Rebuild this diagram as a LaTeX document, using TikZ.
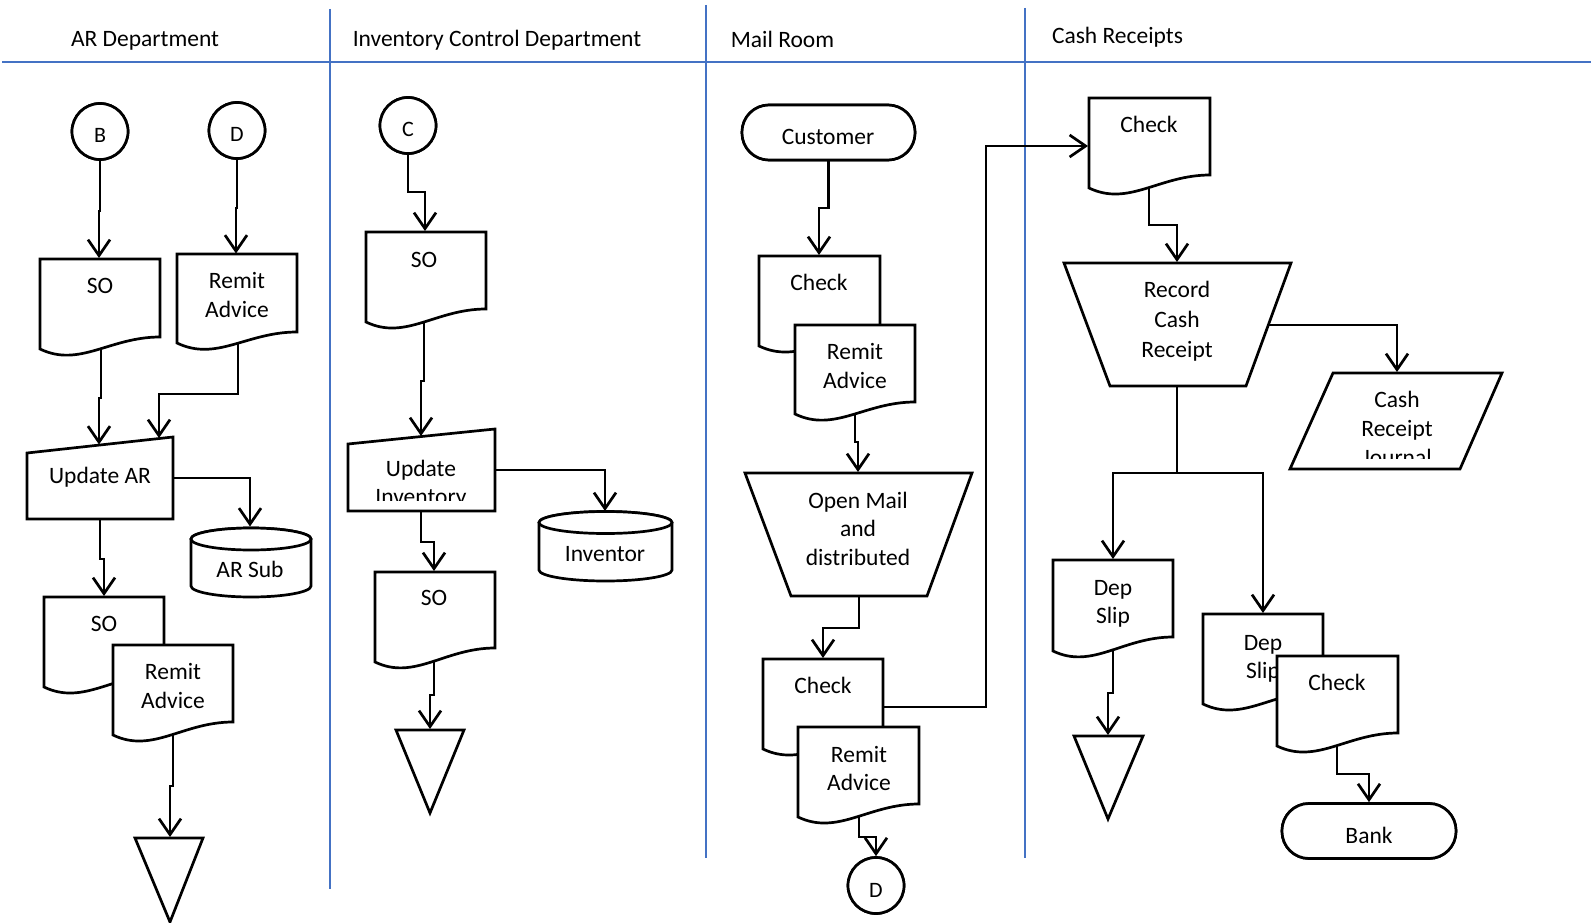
\documentclass[tikz,border=0pt]{standalone}
\usepackage{fontspec}
\setmainfont{Carlito}
\usetikzlibrary{arrows.meta}
\definecolor{laneblue}{RGB}{68,114,196}
\newcommand\fs{\fontsize{23.5}{28}\selectfont}
\newcommand\docshape[5]{\draw[shp] (#1,#2) -- (#3,#2) -- (#3,#4) .. controls ({#1+0.58*(#3-#1)},#4) and ({#1+0.33*(#3-#1)},{#5+19}) .. (#1,#5) -- cycle;}
\newcommand\cylshape[5]{%
  \draw[shp] (#1,#3) -- (#1,#4) arc[start angle=180,end angle=360,x radius=#5pt,y radius=11pt] -- (#2,#3) arc[start angle=0,end angle=180,x radius=#5pt,y radius=11pt] -- cycle;
  \draw[shp] ({(#1+#2)/2},#3) ellipse [x radius=#5pt,y radius=11pt];}
\begin{document}
\begin{tikzpicture}[x=1pt,y=-1pt,
  shp/.style={draw=black, line width=2.7pt, fill=white, line join=miter},
  arr/.style={draw=black, line width=2.7pt, -{Straight Barb[length=16pt,width=22pt]}},
  lane/.style={draw=laneblue, line width=2pt},
  txt/.style={inner sep=0pt, anchor=base, font=\fs},
  ctxt/.style={inner sep=0pt, anchor=base, font=\fontsize{22}{26}\selectfont},
  circ/.style={shp, circle, minimum size=56pt, inner sep=0pt},
  term/.style={shp, rounded corners=27pt, minimum height=55pt, inner sep=0pt}]
\useasboundingbox (0,0) rectangle (1591,923);
\fill[white] (0,0) rectangle (1591,923);
% lanes
\draw[lane] (2,62) -- (1591,62);
\draw[lane] (330,9) -- (330,889);
\draw[lane] (705.5,5) -- (705.5,858);
\draw[lane] (1024.5,8) -- (1024.5,858);
\node[txt] (h1) at (145,47) {AR Department};
\node[txt] (h2) at (497,47) {Inventory Control Department};
\node[txt] (h3) at (782.5,48) {Mail Room};
\node[txt] (h4) at (1117.5,44) {Cash Receipts};
% nodes with names
\node[circ] (cB) at (100,131.5) {};
\node[circ] (cD) at (237,130.5) {};
\node[circ] (cC) at (408,125.5) {};
\node[circ] (cD2) at (876,885.5) {};
\node[term, minimum width=173pt] (cust) at (828.5,132.5) {};
\node[term, minimum width=174pt] (bank) at (1369,831) {};
% named points
\coordinate (soA-t) at (99,258);   \coordinate (soA-c) at (101,320);
\coordinate (ra-t) at (236,253.5); \coordinate (ra-c) at (238,320);
\coordinate (uAR-l) at (99,444.5); \coordinate (uAR-r) at (159,438);
\coordinate (uAR-c) at (150,478);  \coordinate (uAR-c2) at (100,500);
\coordinate (arS-t) at (250,526.5);
\coordinate (soA2-t) at (104,596);
\coordinate (ra2-c) at (173,715);  \coordinate (triA-t) at (170,837);
\coordinate (soI-t) at (425,231);  \coordinate (soI-c) at (424,300);
\coordinate (uI-t) at (421,436);   \coordinate (uI-c) at (470,470);
\coordinate (uI-c2) at (421,495);  \coordinate (inv-t) at (605,511);
\coordinate (soI2-t) at (434,571); \coordinate (soI2-c) at (434,640);
\coordinate (triI-t) at (430,729);
\coordinate (chkM-t) at (819,255); \coordinate (raM-c) at (855,400);
\coordinate (om-t) at (858,472);   \coordinate (om-c) at (859,580);
\coordinate (chkM2-t) at (823,658);\coordinate (chkM2-c) at (850,707);
\coordinate (raM2-c) at (859,800);
\coordinate (chkC-l) at (1088,146);\coordinate (chkC-c) at (1149,170);
\coordinate (rec-t) at (1177,262); \coordinate (rec-c) at (1200,325);
\coordinate (rec-c2) at (1177,370);\coordinate (br) at (1177,473);
\coordinate (jour-t) at (1397,372);
\coordinate (dep1-t) at (1113,559);\coordinate (dep1-c) at (1113,640);
\coordinate (dep2-t) at (1263,613);
\coordinate (triC-t) at (1108,735);\coordinate (chkC2-c) at (1337,740);
% connectors
\draw[arr] (cB.south) |- (99,211) -- (soA-t);
\draw[arr] (cD.south) |- (236,208) -- (ra-t);
\draw[arr] (soA-c) |- (99,398) -- (uAR-l);
\draw[arr] (ra-c) |- (159,394) -- (uAR-r);
\draw[arr] (uAR-c) -| (arS-t);
\draw[arr] (uAR-c2) |- (104,559) -- (soA2-t);
\draw[arr] (ra2-c) |- (170,786) -- (triA-t);
\draw[arr] (cC.south) |- (425,192) -- (soI-t);
\draw[arr] (soI-c) |- (421,381) -- (uI-t);
\draw[arr] (uI-c) -| (inv-t);
\draw[arr] (uI-c2) |- (434,542) -- (soI2-t);
\draw[arr] (soI2-c) |- (430,695) -- (triI-t);
\draw[arr] (cust.center) |- (819,208) -- (chkM-t);
\draw[arr] (raM-c) |- (858,442) -- (om-t);
\draw[arr] (om-c) |- (823,628) -- (chkM2-t);
\draw[arr] (raM2-c) |- (876,837) -- (cD2.north);
\draw[arr] (chkM2-c) -| (986,146) -- (chkC-l);
\draw[arr] (chkC-c) |- (1177,225) -- (rec-t);
\draw[arr] (rec-c) -| (jour-t);
\draw[arr] (rec-c2) -- (br) -| (dep1-t);
\draw[arr] (br) -| (dep2-t);
\draw[arr] (dep1-c) |- (1108,693) -- (triC-t);
\draw[arr] (chkC2-c) |- (1369,774) -- (bank.north);
% redraw circles and terminals on top
\node[circ] at (cB) {};
\node[circ] at (cD) {};
\node[circ] at (cC) {};
\node[circ] at (cD2) {};
\node[term, minimum width=173pt] at (cust) {};
\node[term, minimum width=174pt] at (bank) {};
\node[ctxt] (tB) at (100,143) {B};
\node[ctxt] (tD) at (237,142) {D};
\node[ctxt] (tC) at (408,137) {C};
\node[ctxt] (tD2) at (876,897) {D};
\node[txt] (tcust) at (828,145) {Customer};
\node[txt] (tbank) at (1369,843) {Bank};
% AR department shapes
\docshape{40}{259}{160}{337}{349}
\node[txt] (t1) at (100,293) {SO};
\docshape{177}{254}{297}{332}{343}
\node[txt] (t2) at (237,288) {Remit};
\node[txt] (t3) at (237,317) {Advice};
\draw[shp] (27,453) -- (173,437) -- (173,519) -- (27,519) -- cycle;
\node[txt] (t4) at (100,483) {Update AR};
\cylshape{191}{311}{539}{586}{60}
\node[txt] (t5) at (250,577) {AR Sub};
\docshape{44}{597}{164}{674}{687}
\node[txt] (t6) at (104,631) {SO};
\docshape{113}{645}{233}{722}{735}
\node[txt] (t7) at (173,679) {Remit};
\node[txt] (t8) at (173,708) {Advice};
\draw[shp] (135,838) -- (203,838) -- (170,922) -- cycle;
% Inventory control shapes
\docshape{366}{232}{486}{309}{322}
\node[txt] (t9) at (424,267) {SO};
\draw[shp] (348,444) -- (495,429) -- (495,511) -- (348,511) -- cycle;
\node[txt] (t10) at (421,476) {Update};
\begin{scope}
\clip (340,420) rectangle (500,500);
\node[txt] (t11) at (421,504.5) {Inventory};
\end{scope}
\cylshape{539}{672}{522.5}{570}{66.5}
\node[txt] (t12) at (605,561) {Inventor};
\docshape{375}{572}{495}{648}{662}
\node[txt] (t13) at (434,605) {SO};
\draw[shp] (396,730) -- (464,730) -- (430,813) -- cycle;
% Mail room shapes
\docshape{759}{256}{880}{333}{346}
\node[txt] (t14) at (819,290) {Check};
\docshape{795}{325}{915}{402}{414}
\node[txt] (t15) at (855,359) {Remit};
\node[txt] (t16) at (855,388) {Advice};
\draw[shp] (745,473) -- (972,473) -- (927,596) -- (791,596) -- cycle;
\node[txt] (t17) at (858,508) {Open Mail};
\node[txt] (t18) at (858,536.5) {and};
\node[txt] (t19) at (858,565) {distributed};
\docshape{763}{659}{883}{736}{749}
\node[txt] (t20) at (823,693) {Check};
\docshape{798}{727}{919}{804}{817}
\node[txt] (t21) at (859,762) {Remit};
\node[txt] (t22) at (859,790) {Advice};
% Cash receipts shapes
\docshape{1089}{98}{1210}{175}{188}
\node[txt] (t23) at (1149,133) {Check};
\draw[shp] (1064,263) -- (1291,263) -- (1246,386) -- (1110,386) -- cycle;
\node[txt] (t24) at (1177,297) {Record};
\node[txt] (t25) at (1177,327) {Cash};
\node[txt] (t26) at (1177,357) {Receipt};
\draw[shp] (1333,373) -- (1502,373) -- (1460,469) -- (1290,469) -- cycle;
\node[txt] (t27) at (1397,407) {Cash};
\node[txt] (t28) at (1397,436) {Receipt};
\begin{scope}
\clip (1300,440) rectangle (1500,458);
\node[txt] (t29) at (1397,465) {Journal};
\end{scope}
\docshape{1053}{560}{1173}{637}{651}
\node[txt] (t30) at (1113,595) {Dep};
\node[txt] (t31) at (1113,623) {Slip};
\docshape{1203}{614}{1323}{691}{704}
\node[txt] (t32) at (1263,650) {Dep};
\node[txt] (t33) at (1263,678) {Slip};
\docshape{1277}{656}{1398}{733}{746}
\node[txt] (t34) at (1337,690) {Check};
\draw[shp] (1074,736) -- (1143,736) -- (1108,819) -- cycle;
\end{tikzpicture}
\end{document}
